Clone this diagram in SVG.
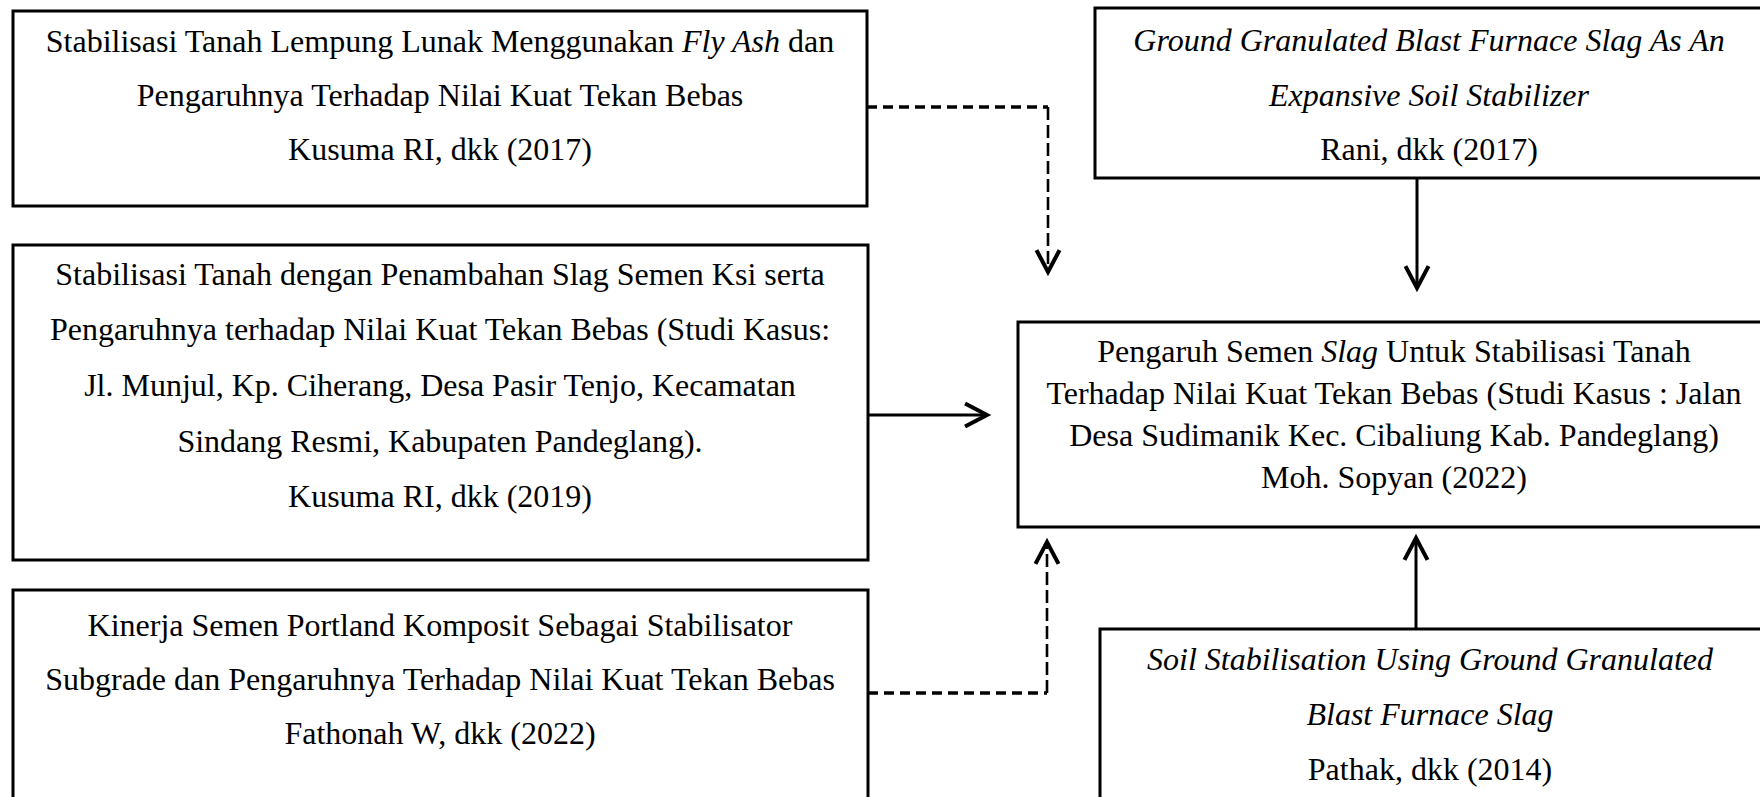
<svg xmlns="http://www.w3.org/2000/svg" width="1760" height="797" viewBox="0 0 1760 797">
<style>
.box{fill:#fff;stroke:#000;stroke-width:3}
.t{font-family:"Liberation Serif","Times New Roman",serif;font-size:32px;fill:#000;text-anchor:middle}
.i{font-style:italic}
.ln{fill:none;stroke:#000;stroke-width:3}
.dh{fill:none;stroke:#000;stroke-width:3.5;stroke-dasharray:10 6}
.dv{fill:none;stroke:#000;stroke-width:2.6;stroke-dasharray:13 5}
</style>
<defs>
<marker id="ah" markerUnits="userSpaceOnUse" markerWidth="30" markerHeight="30" viewBox="-22 -13 26 26" refX="0" refY="0" orient="auto">
<path d="M-19,-10 L0,0 L-19,10" fill="none" stroke="#000" stroke-width="3.5"/>
</marker>
</defs>
<rect width="1760" height="797" fill="#fff"/>
<g id="connectors">
<path class="dh" d="M867,107 H1048"/>
<path class="dv" d="M1048,107 V272" marker-end="url(#ah)"/>
<path class="ln" d="M868,415 H987" marker-end="url(#ah)"/>
<path class="dh" d="M868,693 H1047"/>
<path class="dv" d="M1047,693 V542" marker-end="url(#ah)"/>
<path class="ln" d="M1417,178 V288" marker-end="url(#ah)"/>
<path class="ln" d="M1416,629 V538" marker-end="url(#ah)"/>
</g>
<g id="node1">
<rect class="box" x="13" y="11" width="854" height="195"/>
<text class="t" x="440" y="52">Stabilisasi Tanah Lempung Lunak Menggunakan <tspan class="i">Fly Ash</tspan> dan</text>
<text class="t" x="440" y="106">Pengaruhnya Terhadap Nilai Kuat Tekan Bebas</text>
<text class="t" x="440" y="160">Kusuma RI, dkk (2017)</text>
</g>
<g id="node2">
<rect class="box" x="13" y="245" width="855" height="315"/>
<text class="t" x="440" y="285">Stabilisasi Tanah dengan Penambahan Slag Semen Ksi serta</text>
<text class="t" x="440" y="340">Pengaruhnya terhadap Nilai Kuat Tekan Bebas (Studi Kasus:</text>
<text class="t" x="440" y="396">Jl. Munjul, Kp. Ciherang, Desa Pasir Tenjo, Kecamatan</text>
<text class="t" x="440" y="452">Sindang Resmi, Kabupaten Pandeglang).</text>
<text class="t" x="440" y="507">Kusuma RI, dkk (2019)</text>
</g>
<g id="node3">
<rect class="box" x="13" y="590" width="855" height="240"/>
<text class="t" x="440" y="636">Kinerja Semen Portland Komposit Sebagai Stabilisator</text>
<text class="t" x="440" y="690">Subgrade dan Pengaruhnya Terhadap Nilai Kuat Tekan Bebas</text>
<text class="t" x="440" y="744">Fathonah W, dkk (2022)</text>
</g>
<g id="node4">
<rect class="box" x="1095" y="8" width="668" height="170"/>
<text class="t i" x="1429" y="51">Ground Granulated Blast Furnace Slag As An</text>
<text class="t i" x="1429" y="106">Expansive Soil Stabilizer</text>
<text class="t" x="1429" y="160">Rani, dkk (2017)</text>
</g>
<g id="node5">
<rect class="box" x="1018" y="322" width="752" height="205"/>
<text class="t" x="1394" y="362">Pengaruh Semen <tspan class="i">Slag</tspan> Untuk Stabilisasi Tanah</text>
<text class="t" x="1394" y="404">Terhadap Nilai Kuat Tekan Bebas (Studi Kasus : Jalan</text>
<text class="t" x="1394" y="446">Desa Sudimanik Kec. Cibaliung Kab. Pandeglang)</text>
<text class="t" x="1394" y="488">Moh. Sopyan (2022)</text>
</g>
<g id="node6">
<rect class="box" x="1100" y="629" width="663" height="200"/>
<text class="t i" x="1430" y="670">Soil Stabilisation Using Ground Granulated</text>
<text class="t i" x="1430" y="725">Blast Furnace Slag</text>
<text class="t" x="1430" y="780">Pathak, dkk (2014)</text>
</g>
</svg>
